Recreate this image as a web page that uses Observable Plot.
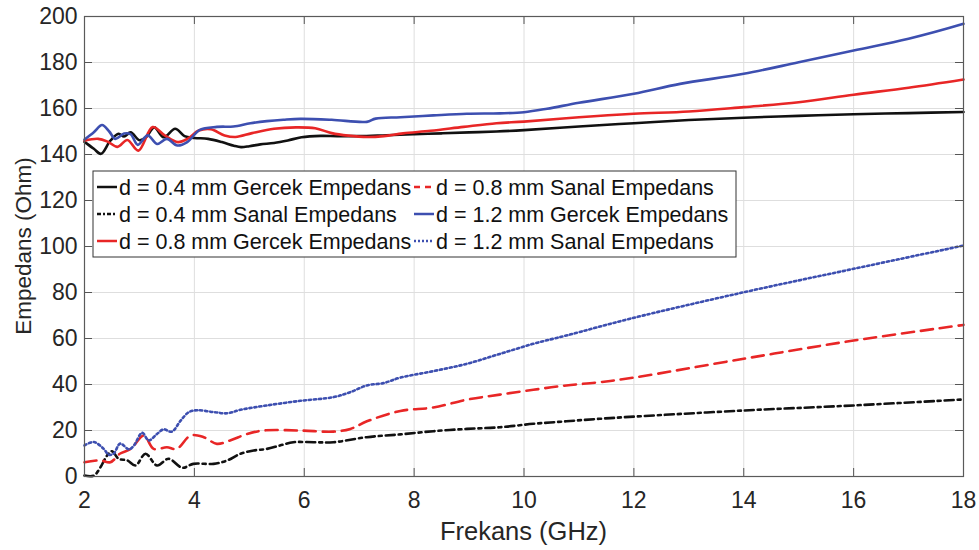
<!DOCTYPE html>
<html><head><meta charset="utf-8">
<script src="https://cdn.jsdelivr.net/npm/d3@7"></script>
<script src="https://cdn.jsdelivr.net/npm/@observablehq/plot@0.6"></script>
<style>
body{margin:0;background:#fff;}
#chart{position:relative;width:979px;height:550px;}
</style></head><body><div id="chart"></div>
<script>
// Tick values
const xTicks = [2, 4, 6, 8, 10, 12, 14, 16, 18];
const yTicks = [0, 20, 40, 60, 80, 100, 120, 140, 160, 180, 200];
const xLabel = "Frekans (GHz)";
const yLabel = "Empedans (Ohm)";

// d = 0.4 mm Gercek (real)
const f04R = [2.0, 2.17, 2.3, 2.47, 2.62, 2.72, 2.84, 3.0, 3.12, 3.27, 3.44, 3.65, 3.82, 4.0, 4.25, 4.5, 4.72, 4.85, 5.0, 5.2, 5.45, 5.7, 5.95, 6.3, 6.6, 7.0, 7.5, 8.0, 8.5, 9.0, 9.5, 10, 11, 12, 13, 14, 15, 16, 17, 18];
const v04R = [145.5, 142.5, 140.3, 146, 149, 147.8, 149.6, 146.2, 147.5, 151.8, 147.5, 151.2, 148, 147.2, 146.8, 145.4, 143.8, 143.2, 143.6, 144.4, 145, 146.1, 147.5, 148.1, 148, 148, 148.4, 148.8, 149.2, 149.6, 150, 150.6, 152.2, 153.6, 155, 156, 156.8, 157.5, 158, 158.5];
// d = 0.4 mm Sanal (imag)
const f04I = [2.0, 2.17, 2.29, 2.41, 2.5, 2.62, 2.78, 2.93, 3.11, 3.32, 3.53, 3.78, 3.98, 4.35, 4.6, 4.84, 5.08, 5.32, 5.56, 5.8, 6.17, 6.53, 7.14, 7.75, 8.35, 8.96, 9.56, 10.17, 10.77, 11.38, 12.05, 14, 16, 18];
const v04I = [0.4, 0.4, 4, 9.1, 11, 7.7, 7, 4.8, 9.9, 4.8, 7.7, 3.8, 5.5, 5.5, 7, 9.9, 11.3, 12, 13.5, 14.9, 14.9, 14.9, 17.1, 18.3, 19.7, 20.7, 21.4, 22.9, 24, 25.1, 26.1, 28.7, 30.9, 33.5];
// d = 0.8 mm Gercek
const f08R = [2.0, 2.25, 2.42, 2.6, 2.78, 2.98, 3.24, 3.46, 3.7, 3.88, 4.08, 4.3, 4.55, 4.75, 5.05, 5.45, 5.85, 6.2, 6.5, 6.8, 7.15, 7.45, 7.8, 8.3, 8.9, 9.5, 10, 11, 12, 13, 14, 15, 16, 17, 18];
const v08R = [146, 146.8, 145.6, 143.3, 146.3, 141.7, 151.9, 148.3, 145.4, 146.9, 150.4, 151, 148.3, 147.6, 149.3, 151.2, 151.8, 151.4, 149.3, 148.2, 147.6, 148, 149.2, 150.3, 152, 153.6, 154.3, 156.2, 157.7, 158.7, 160.6, 162.7, 166, 169, 172.6];
// d = 0.8 mm Sanal
const f08I = [2.0, 2.29, 2.47, 2.65, 2.84, 3.08, 3.26, 3.5, 3.68, 3.93, 4.17, 4.41, 4.65, 4.96, 5.26, 5.93, 6.53, 6.84, 7.14, 7.75, 8.35, 8.96, 9.56, 10.17, 10.77, 11.38, 12, 14, 16, 18];
const v08I = [6.2, 7, 6.2, 10, 12, 17.8, 12, 12.7, 12, 17.8, 17.1, 14.2, 15.7, 18.5, 20, 20, 19.5, 20.7, 24, 28.5, 30, 33.4, 35.6, 37.7, 39.6, 41, 43, 51.2, 59.1, 65.9];
// d = 1.2 mm Gercek
const f12R = [2.0, 2.17, 2.32, 2.45, 2.56, 2.72, 2.84, 2.97, 3.15, 3.32, 3.5, 3.69, 3.87, 4.1, 4.41, 4.71, 5.02, 5.32, 5.62, 5.93, 6.5, 7.14, 7.3, 7.75, 8.35, 8.96, 9.56, 10, 10.42, 11, 12, 12.84, 14, 15, 16, 17, 18];
const v12R = [146.5, 149.7, 152.8, 150, 146.8, 149.1, 148.8, 144.2, 148.3, 144.6, 146.8, 143.9, 145.4, 150.7, 152, 152.2, 153.6, 154.5, 155.1, 155.5, 155.1, 154.2, 155.6, 156.2, 157, 157.7, 157.9, 158.4, 159.9, 162.5, 166.4, 170.7, 175.1, 180.1, 185.2, 190.3, 196.8];
// d = 1.2 mm Sanal
const f12I = [2.0, 2.17, 2.35, 2.44, 2.53, 2.65, 2.81, 2.9, 3.05, 3.17, 3.32, 3.44, 3.59, 3.75, 3.9, 4.05, 4.35, 4.6, 4.84, 5.32, 5.93, 6.53, 6.84, 7.14, 7.44, 7.75, 8.35, 8.96, 9.56, 10.17, 10.77, 11.93, 14, 16, 18];
const v12I = [13.5, 15, 12, 9.5, 9.9, 14.3, 11.8, 13.5, 19, 15.7, 18.5, 20.5, 19.5, 24.3, 28, 28.8, 28, 27.5, 29, 30.9, 32.9, 34.5, 36.7, 39.6, 40.6, 43, 45.8, 49, 53.3, 57.7, 61.3, 68.6, 80.1, 90.3, 100.4];

const seriesNames = [
  "d = 0.4 mm Gercek Empedans",
  "d = 0.4 mm Sanal Empedans",
  "d = 0.8 mm Gercek Empedans",
  "d = 0.8 mm Sanal Empedans",
  "d = 1.2 mm Gercek Empedans",
  "d = 1.2 mm Sanal Empedans"
];
const seriesF = [f04R, f04I, f08R, f08I, f12R, f12I];
const seriesV = [v04R, v04I, v08R, v08I, v12R, v12I];
const seriesColor = ["#111111", "#111111", "#e82626", "#e82626", "#3d4fb0", "#3d4fb0"];
const seriesDash = [null, "9,4,3,4", null, "12,7", null, "2.2,2.8"];
const legendDash = [null, "4,2,2,2", null, "6,5", null, "2,2"];

const W = 979, H = 550, mL = 84, mR = 16, mT = 16, mB = 74;
const fw = W - mL - mR, fh = H - mT - mB;
const font = "Arial, 'Liberation Sans', Helvetica, sans-serif";

const rows = seriesNames.flatMap((name, k) => seriesF[k].map((f, i) => ({f, v: seriesV[k][i], name})));

const lineMarks = seriesNames.map((name, k) => Plot.line(rows.filter(r => r.name === name), {
  x: "f", y: "v", stroke: seriesColor[k], strokeWidth: 2.6,
  strokeDasharray: seriesDash[k] || undefined, curve: "catmull-rom"
}));

const plot = Plot.plot({
  width: W, height: H,
  marginLeft: mL, marginRight: mR, marginTop: mT, marginBottom: mB,
  style: {fontFamily: font, color: "#262626", background: "#fff", overflow: "visible"},
  x: {domain: [2, 18]},
  y: {domain: [0, 200]},
  marks: [
    Plot.gridX({ticks: xTicks, stroke: "#dedede", strokeOpacity: 1, strokeWidth: 1}),
    Plot.gridY({ticks: yTicks, stroke: "#dedede", strokeOpacity: 1, strokeWidth: 1}),
    ...lineMarks,
    Plot.ruleX(xTicks, {x: d => d, insetTop: fh - 8, stroke: "#555", strokeWidth: 1}),
    Plot.ruleX(xTicks, {x: d => d, insetBottom: fh - 8, stroke: "#555", strokeWidth: 1}),
    Plot.ruleY(yTicks, {y: d => d, insetRight: fw - 8, stroke: "#555", strokeWidth: 1}),
    Plot.ruleY(yTicks, {y: d => d, insetLeft: fw - 8, stroke: "#555", strokeWidth: 1}),
    Plot.frame({stroke: "#5a5a5a", strokeWidth: 1.2}),
    Plot.axisX({ticks: xTicks, tickSize: 0, tickPadding: 15, fontSize: 23, label: null, fill: "#262626"}),
    Plot.axisY({ticks: yTicks, tickSize: 0, tickPadding: 7, fontSize: 23, label: null, fill: "#262626"})
  ]
});
document.getElementById("chart").appendChild(plot);

const svg = d3.select(plot);
// Axis titles
svg.append("text").attr("x", (mL + W - mR) / 2).attr("y", 531).attr("dy", "0.35em")
  .attr("text-anchor", "middle").attr("font-family", font).attr("font-size", 25.5).attr("fill", "#262626").text(xLabel);
svg.append("text").attr("transform", `translate(23,${(mT + H - mB) / 2}) rotate(-90)`).attr("dy", "0.35em")
  .attr("text-anchor", "middle").attr("font-family", font).attr("font-size", 22.5).attr("fill", "#262626").text(yLabel);

// Legend
const lg = svg.append("g").attr("font-family", font).attr("font-size", 21.5).attr("fill", "#111").attr("text-anchor", "start");
lg.append("rect").attr("x", 93).attr("y", 171).attr("width", 643).attr("height", 86)
  .attr("fill", "#fff").attr("stroke", "#333").attr("stroke-width", 1);
const colX = [97, 414], rowY = [187, 214, 241];
seriesNames.forEach((name, k) => {
  const c = Math.floor(k / 3), r = k % 3;
  const x0 = colX[c], y0 = rowY[r];
  lg.append("line").attr("x1", x0).attr("x2", x0 + 20).attr("y1", y0).attr("y2", y0)
    .attr("stroke", seriesColor[k]).attr("stroke-width", 2.5)
    .attr("stroke-dasharray", legendDash[k]);
  lg.append("text").attr("x", x0 + 22).attr("y", y0).attr("dy", "0.35em").attr("text-anchor", "start").text(name);
});
</script></body></html>
